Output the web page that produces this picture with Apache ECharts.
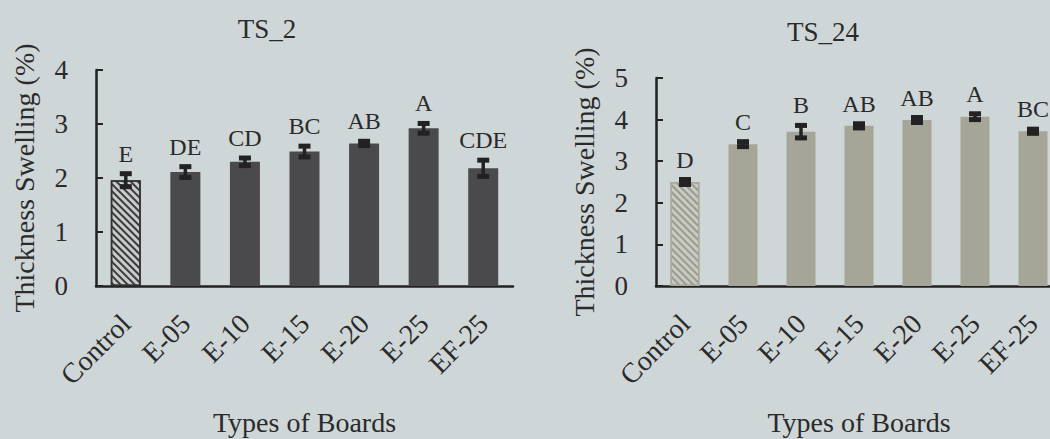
<!DOCTYPE html>
<html>
<head>
<meta charset="utf-8">
<script src="https://cdn.jsdelivr.net/npm/echarts@6/dist/echarts.min.js"></script>
<style>
  html, body { margin: 0; padding: 0; background: #cfd6d8; }
  #chart { width: 1050px; height: 439px; }
</style>
</head>
<body>
<div id="chart"></div>
<script>
// Thickness swelling of boards after 2 h and 24 h immersion
const boards = ['Control', 'E-05', 'E-10', 'E-15', 'E-20', 'E-25', 'EF-25'];

const ts2Mean = [1.96, 2.11, 2.30, 2.49, 2.64, 2.92, 2.18];
const ts2Err = [0.12, 0.10, 0.07, 0.10, 0.04, 0.09, 0.15];
const ts2Groups = ['E', 'DE', 'CD', 'BC', 'AB', 'A', 'CDE'];

const ts24Mean = [2.50, 3.41, 3.71, 3.85, 3.99, 4.07, 3.72];
const ts24Err = [0.06, 0.06, 0.15, 0.05, 0.06, 0.07, 0.05];
const ts24Groups = ['D', 'C', 'B', 'AB', 'AB', 'A', 'BC'];

const ts2Ticks = [0, 1, 2, 3, 4];
const ts24Ticks = [0, 1, 2, 3, 4, 5];

const FONT = '"Liberation Serif", "Times New Roman", serif';
const INK = '#222';

// first bar (Control) is hatched, the rest are solid
function hatchBar(values, fill, hatchFill, stripe, border) {
  return values.map((v, i) => i === 0 ? {
    value: v,
    itemStyle: {
      color: hatchFill,
      borderColor: border,
      borderWidth: 1.5,
      decal: {
        symbol: 'rect',
        symbolSize: 1,
        color: stripe,
        dashArrayX: [1, 0],
        dashArrayY: [2, 3],
        rotation: Math.PI / 4
      }
    }
  } : { value: v, itemStyle: { color: fill } });
}

// error bars with the significance letters above them
function errorSeries(idx, means, errs, groups, capLw, half) {
  return {
    type: 'custom',
    xAxisIndex: idx,
    yAxisIndex: idx,
    z: 5,
    data: means.map((m, i) => [i, m, errs[i], groups[i]]),
    encode: { x: 0, y: 1 },
    renderItem: function (params, api) {
      const i = api.value(0);
      const m = api.value(1);
      const e = api.value(2);
      const hi = api.coord([i, m + e]);
      const lo = api.coord([i, m - e]);
      return {
        type: 'group',
        children: [
          { type: 'line', shape: { x1: hi[0], y1: hi[1], x2: lo[0], y2: lo[1] },
            style: { stroke: INK, lineWidth: 3.5 } },
          { type: 'line', shape: { x1: hi[0] - half, y1: hi[1], x2: hi[0] + half, y2: hi[1] },
            style: { stroke: INK, lineWidth: capLw } },
          { type: 'line', shape: { x1: lo[0] - half, y1: lo[1], x2: lo[0] + half, y2: lo[1] },
            style: { stroke: INK, lineWidth: capLw } },
          { type: 'text',
            style: { text: groups[i], x: hi[0], y: hi[1] - 8,
              align: 'center', verticalAlign: 'bottom',
              fill: '#2a2a2a', fontSize: 24, fontFamily: FONT } }
        ]
      };
    }
  };
}

const catAxis = (gridIndex) => ({
  type: 'category',
  gridIndex: gridIndex,
  data: boards,
  name: 'Types of Boards',
  nameLocation: 'middle',
  nameGap: 122,
  nameTextStyle: { fontSize: 28, fontFamily: FONT, color: '#2a2a2a' },
  axisLine: { lineStyle: { color: INK, width: 2.5 } },
  axisTick: { show: false },
  axisLabel: { rotate: 45, margin: 33, fontSize: 28, fontFamily: FONT, color: '#2a2a2a' }
});

const valAxis = (gridIndex, ticks) => ({
  type: 'value',
  gridIndex: gridIndex,
  min: ticks[0],
  max: ticks[ticks.length - 1],
  interval: ticks[1] - ticks[0],
  name: 'Thickness Swelling (%)',
  nameLocation: 'middle',
  nameGap: 58,
  nameTextStyle: { fontSize: 28, fontFamily: FONT, color: '#2a2a2a' },
  axisLine: { show: true, lineStyle: { color: INK, width: 2.5 } },
  axisTick: { show: true, inside: true, length: 7, lineStyle: { color: INK, width: 2 } },
  splitLine: { show: false },
  axisLabel: { margin: 28, fontSize: 27, fontFamily: FONT, color: '#2a2a2a' }
});

const chart = echarts.init(document.getElementById('chart'), null, { renderer: 'svg' });
chart.setOption({
  backgroundColor: '#cfd6d8',
  animation: false,
  title: [
    { text: 'TS_2', left: 262, top: 10, textAlign: 'center',
      textStyle: { fontSize: 27, fontWeight: 'normal', fontFamily: FONT, color: '#2a2a2a' } },
    { text: 'TS_24', left: 818, top: 13, textAlign: 'center',
      textStyle: { fontSize: 27, fontWeight: 'normal', fontFamily: FONT, color: '#2a2a2a' } }
  ],
  grid: [
    { left: 96, top: 70, width: 417, height: 216, outerBoundsMode: 'none' },
    { left: 656, top: 78, width: 406, height: 208, outerBoundsMode: 'none' }
  ],
  xAxis: [catAxis(0), catAxis(1)],
  yAxis: [valAxis(0, ts2Ticks), valAxis(1, ts24Ticks)],
  series: [
    { type: 'bar', xAxisIndex: 0, yAxisIndex: 0, barWidth: 30,
      data: hatchBar(ts2Mean, '#4a4a4d', '#c7cbca', '#3a3a3c', '#333') },
    { type: 'bar', xAxisIndex: 1, yAxisIndex: 1, barWidth: 29,
      data: hatchBar(ts24Mean, '#a5a697', '#c8cbc4', '#9a9b8c', '#a9aa9c') },
    errorSeries(0, ts2Mean, ts2Err, ts2Groups, 5, 6),
    errorSeries(1, ts24Mean, ts24Err, ts24Groups, 5, 6)
  ]
});
</script>
</body>
</html>
